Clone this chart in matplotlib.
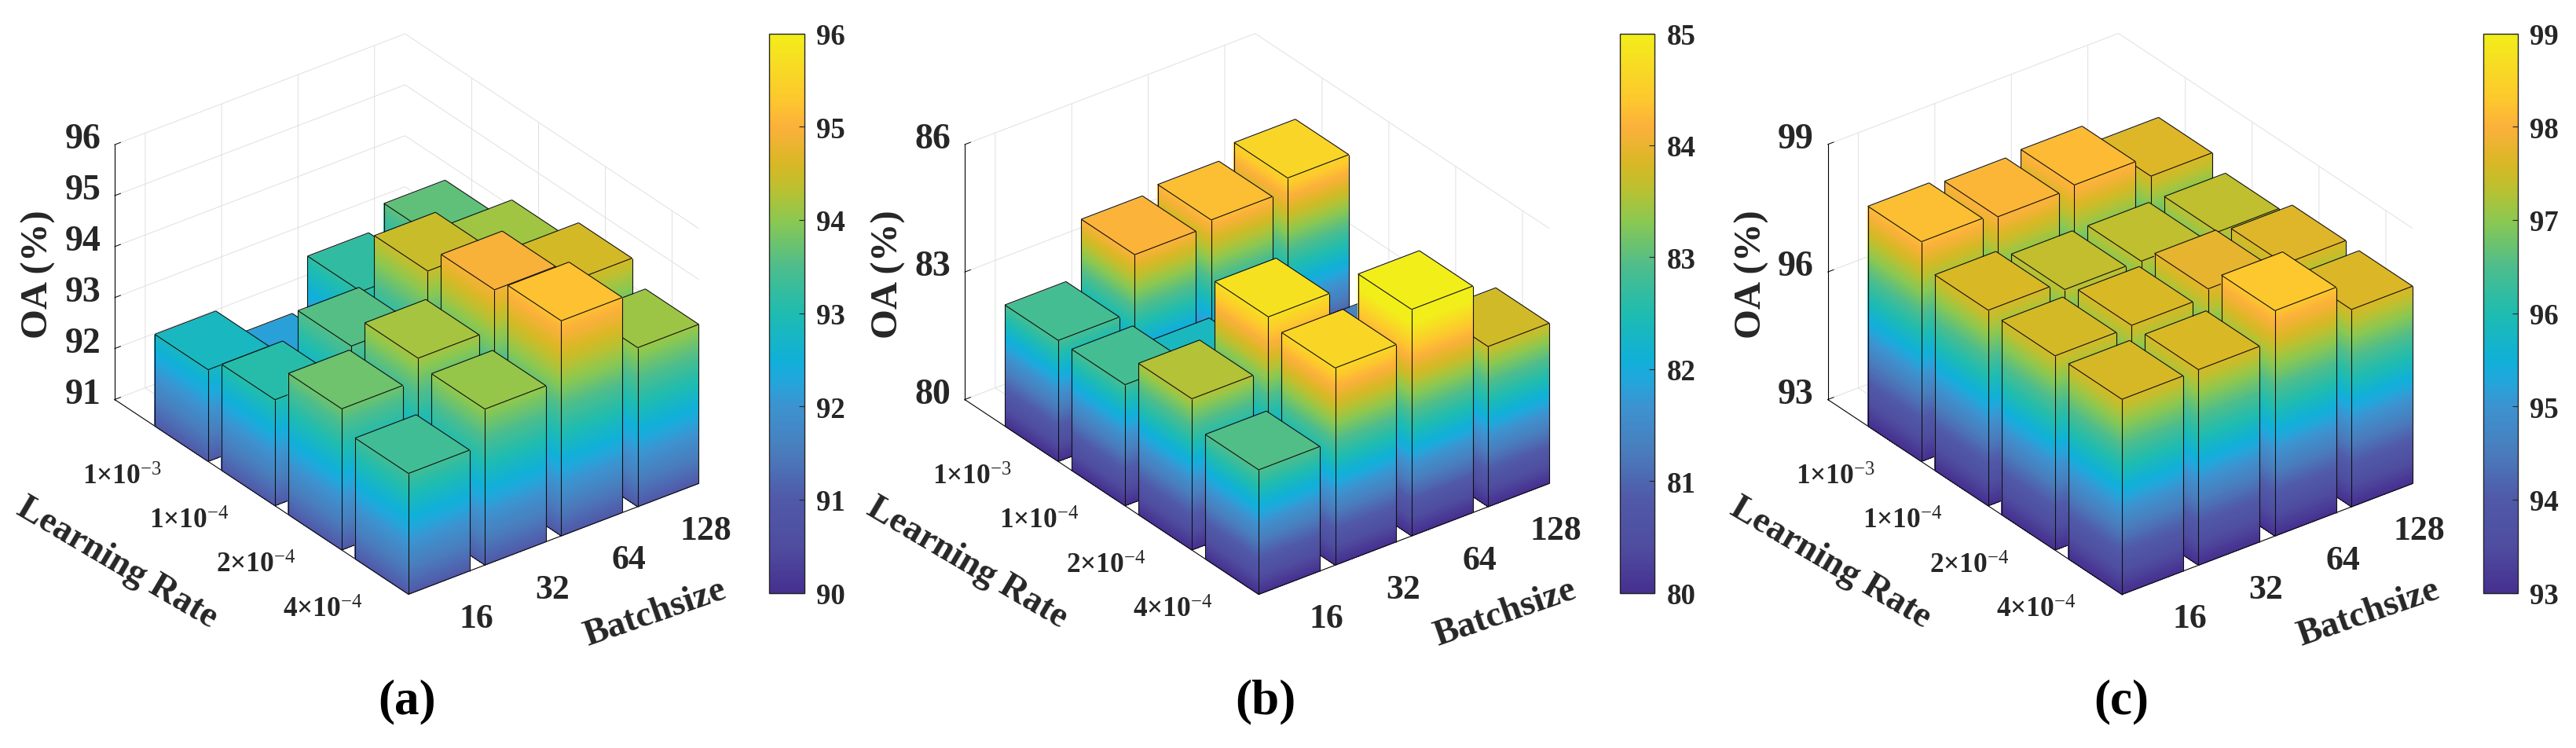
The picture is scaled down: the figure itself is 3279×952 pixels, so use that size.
import numpy as np
import matplotlib
matplotlib.use('Agg')
import matplotlib.pyplot as plt
from matplotlib.colors import LinearSegmentedColormap, Normalize
from matplotlib.cm import ScalarMappable
from matplotlib.transforms import Affine2D
from mpl_toolkits.mplot3d import proj3d
from mpl_toolkits.mplot3d.art3d import Line3DCollection

plt.rcParams['font.family'] = ['Liberation Serif', 'DejaVu Serif']
plt.rcParams['mathtext.fontset'] = 'custom'
plt.rcParams['mathtext.rm'] = 'Liberation Serif'
plt.rcParams['mathtext.default'] = 'rm'

W, H = 3280, 953
INK = '#262626'

# ---------- data ----------
learning_rates = ['1×10$^{-3}$', '1×10$^{-4}$', '2×10$^{-4}$', '4×10$^{-4}$']
batch_sizes = ['16', '32', '64', '128']
oa_a = [[92.80, 92.18, 93.19, 93.65],
        [93.08, 93.56, 94.46, 94.13],
        [93.77, 94.19, 94.96, 94.55],
        [93.37, 94.06, 95.22, 94.12]]
oa_b = [[82.85, 84.18, 84.31, 84.61],
        [82.85, 82.35, 81.50, 81.35],
        [83.56, 84.80, 81.50, 82.00],
        [82.93, 84.64, 85.33, 83.77]]
oa_c = [[98.17, 98.07, 98.13, 97.65],
        [97.60, 97.40, 97.38, 97.38],
        [97.57, 97.60, 97.77, 97.67],
        [97.59, 97.60, 98.30, 97.64]]
panel_names = ['(a)', '(b)', '(c)']
panel_values = [oa_a, oa_b, oa_c]
z_limits = [(91, 96), (80, 86), (93, 99)]
z_ticks = [[91, 92, 93, 94, 95, 96], [80, 83, 86], [93, 96, 99]]
colour_limits = [(90, 96), (80, 85), (93, 99)]

# ---------- layout (pixels of the reference) ----------
left_corner_x = [146, 1228, 2326.6]
right_corner_x = [889.5, 1972, 3071]
corner_y = 509.5
cbar_x = [979.5, 2062, 3160.7]
label_cx = [517.7, 1611, 2700.5]

stops = [(0.000, '#46308f'), (0.083, '#4f4da0'), (0.167, '#5059a8'),
         (0.250, '#4a7cbc'), (0.333, '#3c93d0'), (0.383, '#20a8dc'),
         (0.417, '#10b0d8'), (0.500, '#1fbcb0'), (0.583, '#4dbd8c'),
         (0.667, '#8cc850'), (0.725, '#bcc030'), (0.767, '#d8b825'),
         (0.833, '#fbb03b'), (0.883, '#fdc72e'), (1.000, '#f2ee1a')]
cmap = LinearSegmentedColormap.from_list('parula_like', stops, N=256)

fig = plt.figure(figsize=(W / 100, H / 100), dpi=100, facecolor='white')


def project_px(ax, x, y, z):
    u, v, _ = proj3d.proj_transform(x, y, z, ax.get_proj())
    return ax.transData.transform((u, v))


def fit_axes(ax, zmin, xl, xr, yref):
    s0 = 1000.0
    ax.set_position([0, 0, s0 / W, s0 / H])
    ax.apply_aspect()
    pl = project_px(ax, 0.6, 0, zmin)
    pr = project_px(ax, 4.4, 4.4, zmin)
    k = (xr - xl) / (pr[0] - pl[0])
    s = s0 * k
    x0 = xl - k * pl[0]
    y0 = (H - yref) - k * pl[1]
    ax.set_position([x0 / W, y0 / H, s / W, s / H])
    ax.apply_aspect()


def nudge_ticklabels(ax, axis, dx, dy):
    """Shift tick labels by (dx, dy) pixels, y downward."""
    for tick in axis.get_major_ticks():
        tick.label1.get_transform = (
            lambda a=ax: a.transData + Affine2D().translate(dx, -dy))


def draw_bar(ax, xc, yc, value, zmin, norm, order):
    hw = 0.4
    x0, x1 = xc - hw, xc + hw
    y0, y1 = yc - hw, yc + hw
    zs = np.linspace(zmin, value, 90)
    Xa = np.full((zs.size, 2), x0)
    Ya = np.tile([y0, y1], (zs.size, 1))
    Za = np.column_stack([zs, zs])
    Xb = np.tile([x0, x1], (zs.size, 1))
    Yb = np.full((zs.size, 2), y1)
    for X, Y, Z in ((Xa, Ya, Za), (Xb, Yb, Za)):
        ax.plot_surface(X, Y, Z, facecolors=cmap(norm(Z)), shade=False,
                        rstride=1, cstride=1, linewidth=0,
                        antialiased=False, zorder=order)
    Xt, Yt = np.meshgrid([x0, x1], [y0, y1])
    Zt = np.full_like(Xt, value)
    ax.plot_surface(Xt, Yt, Zt, facecolors=cmap(norm(Zt)), shade=False,
                    rstride=1, cstride=1, linewidth=0,
                    antialiased=False, zorder=order)
    corners = [(x0, y0), (x0, y1), (x1, y1), (x1, y0)]
    segs = []
    for i in range(4):
        a, b = corners[i], corners[(i + 1) % 4]
        segs.append([(a[0], a[1], value), (b[0], b[1], value)])
    for c in corners[:3]:
        segs.append([(c[0], c[1], zmin), (c[0], c[1], value)])
    segs.append([(x0, y0, zmin), (x0, y1, zmin)])
    segs.append([(x0, y1, zmin), (x1, y1, zmin)])
    ax.add_collection3d(Line3DCollection(segs, colors='#101010',
                                         linewidths=0.8, zorder=order + 0.5))


for i in range(3):
    values = np.array(panel_values[i], dtype=float)
    zmin, zmax = z_limits[i]
    norm = Normalize(*colour_limits[i], clip=True)
    ax = fig.add_subplot(projection='3d', proj_type='ortho',
                         computed_zorder=False)
    ax.patch.set_alpha(0)
    ax.view_init(elev=30.2, azim=-127.2)
    ax.set_box_aspect((463.6, 618.0, 375.0), zoom=1.0)

    order = 1
    for r in range(4):
        for c in range(3, -1, -1):
            draw_bar(ax, c + 1, r + 1, values[r, c], zmin, norm, order)
            order += 1

    ax.set_xlim(0.6, 4.4)
    ax.set_ylim(4.4, 0)
    ax.set_zlim(zmin, zmax)

    ax.set_xticks([1, 2, 3, 4], labels=batch_sizes, fontsize=31.5,
                  fontweight='bold', color=INK)
    ax.set_yticks([1, 2, 3, 4], labels=learning_rates, fontsize=25.5,
                  fontweight='bold', color=INK)
    ax.set_zticks(z_ticks[i], labels=[str(t) for t in z_ticks[i]], fontsize=33,
                  fontweight='bold', color=INK)
    ax.tick_params(axis='x', pad=14)
    ax.tick_params(axis='y', pad=22)
    ax.tick_params(axis='z', pad=12)
    nudge_ticklabels(ax, ax.xaxis, 21, -15)
    nudge_ticklabels(ax, ax.yaxis, -40, -19)
    nudge_ticklabels(ax, ax.zaxis, 7, -21)

    for axis in (ax.xaxis, ax.yaxis, ax.zaxis):
        axis.set_pane_color((1, 1, 1, 0))
        axis.pane.set_edgecolor('#dcdcdc')
        axis.pane.set_linewidth(0.8)
        axis._axinfo['grid'].update(color='#e0e0e0', linewidth=0.7)
        axis._axinfo['axisline']['color'] = (0.2, 0.2, 0.2, 1)
        axis._axinfo['axisline']['linewidth'] = 0.9
        axis._axinfo['tick'].update(inward_factor=0.0, outward_factor=0.25,
                                    linewidth={True: 0.7, False: 0.5})
        axis._axinfo['tick']['color'] = INK

    fit_axes(ax, zmin, left_corner_x[i], right_corner_x[i], corner_y)

    dx = left_corner_x[i] - left_corner_x[0]
    fig.text((149 + dx) / W, 1 - 717 / H, 'Learning Rate', fontsize=33.5,
             fontweight='bold', color=INK, rotation=-30.5,
             ha='center', va='center', rotation_mode='anchor')
    fig.text((834 + dx) / W, 1 - 781 / H, 'Batchsize', fontsize=33.5,
             fontweight='bold', color=INK, rotation=19,
             ha='center', va='center', rotation_mode='anchor')
    fig.text((49 + dx) / W, 1 - 349.5 / H, 'OA (%)', fontsize=35,
             fontweight='bold', color=INK, rotation=90,
             ha='center', va='center', rotation_mode='anchor')
    fig.text(label_cx[i] / W, 1 - 893 / H, panel_names[i], fontsize=45.5,
             fontweight='bold', color='black', ha='center', va='center')

    cax = fig.add_axes([cbar_x[i] / W, 1 - 755.5 / H, 44 / W, 712 / H])
    cb = fig.colorbar(ScalarMappable(norm=Normalize(*colour_limits[i]), cmap=cmap),
                      cax=cax)
    cb.set_ticks(np.arange(colour_limits[i][0], colour_limits[i][1] + 1))
    cb.ax.tick_params(direction='in', length=5, width=0.8, pad=11,
                      labelsize=26.5, color=INK, labelcolor=INK)
    for lab in cb.ax.get_yticklabels():
        lab.set_fontweight('bold')
    cb.outline.set_edgecolor(INK)
    cb.outline.set_linewidth(1.0)

fig.savefig('out.png', dpi=100)
